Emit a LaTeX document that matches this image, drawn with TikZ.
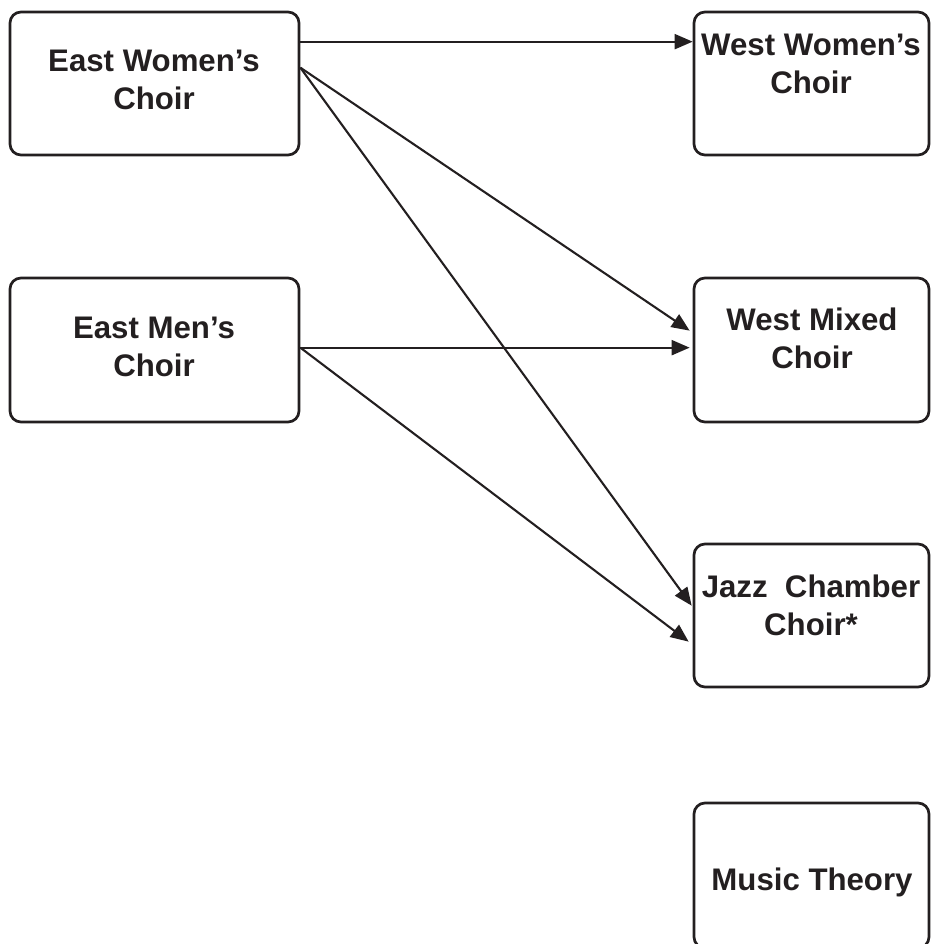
\documentclass[tikz,border=0pt]{standalone}
\usepackage{fontspec}
\setmainfont{Liberation Sans}
\usetikzlibrary{arrows.meta}
\definecolor{ink}{HTML}{231F20}
\begin{document}
\begin{tikzpicture}[x=1pt,y=-1pt,
  box/.style={draw=ink, line width=2.7pt, rounded corners=11pt, inner sep=0pt},
  lbl/.style={anchor=north, inner sep=0pt, align=center, text=ink,
    font=\fontsize{31.2}{38}\selectfont\bfseries},
  conn/.style={draw=ink, line width=2.1pt, -{Triangle[length=18pt,width=15pt]}}]
\useasboundingbox (0,0) rectangle (930,944);
% boxes
\node[box, minimum width=289pt, minimum height=143pt] (ew) at (154.5,83.5) {};
\node[box, minimum width=289pt, minimum height=144pt] (em) at (154.5,350) {};
\node[box, minimum width=235pt, minimum height=143pt] (ww) at (811.5,83.5) {};
\node[box, minimum width=235pt, minimum height=144pt] (wm) at (811.5,350) {};
\node[box, minimum width=235pt, minimum height=143pt] (jz) at (811.5,615.5) {};
\node[box, minimum width=235pt, minimum height=145pt] (mt) at (811.5,875.5) {};
% labels
\node[lbl] (tew) at (154,50) {East Women’s\\Choir};
\node[lbl] (tem) at (154,317) {East Men’s\\Choir};
\node[lbl] (tww) at (811,34) {West Women’s\\Choir};
\node[lbl] (twm) at (812,308) {West Mixed\\Choir};
\node[lbl] (tjz) at (811,575) {Jazz\ \ Chamber\\Choir*};
\node[lbl] (tmt) at (812,868) {Music Theory};
% connectors
\draw[conn] ([yshift=-31pt]ew.north east) -- ([yshift=-31pt]ww.north west);
\draw[conn] ([yshift=-57pt]ew.north east) -- ([xshift=-3pt,yshift=-54pt]wm.north west);
\draw[conn] ([yshift=-57pt]ew.north east) -- ([xshift=-1pt,yshift=-63pt]jz.north west);
\draw[conn] ([yshift=-71pt]em.north east) -- ([xshift=-3pt,yshift=-71pt]wm.north west);
\draw[conn] ([yshift=-71pt]em.north east) -- ([xshift=-4pt,yshift=-99pt]jz.north west);
\end{tikzpicture}
\end{document}
